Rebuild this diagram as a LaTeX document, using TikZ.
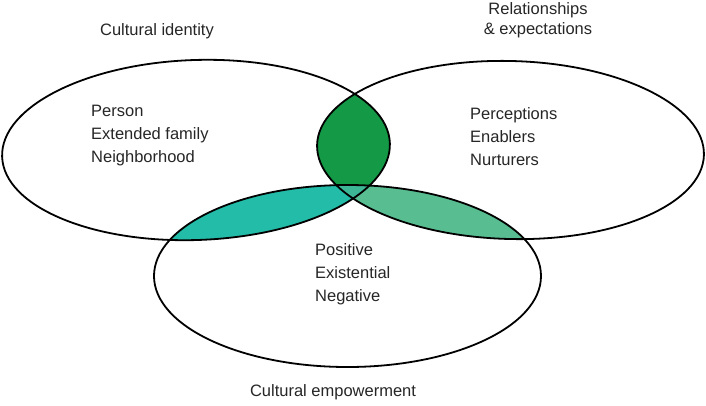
\documentclass[tikz,border=0pt]{standalone}
\usepackage{fontspec}
\setmainfont{Liberation Sans}
\usetikzlibrary{positioning}

\definecolor{lensgreen}{HTML}{149946}
\definecolor{lensteal}{HTML}{23BCA8}
\definecolor{lensmint}{HTML}{58BE91}
\definecolor{lensmix}{HTML}{3DB696}

% the three sets
\newcommand{\identityset}{(196,150) ellipse [x radius=194, y radius=90, rotate=2]}
\newcommand{\relationset}{(510.5,150) ellipse [x radius=193.5, y radius=89, rotate=-1.5]}
\newcommand{\empowerset}{(347.5,276) ellipse [x radius=193.5, y radius=91]}

\begin{document}
\begin{tikzpicture}[
    x=1pt, y=-1pt,
    ring/.style={draw=black, line width=1.8pt},
    settitle/.style={font=\fontsize{16.5}{20}\selectfont, text=black!85, align=center},
    setitems/.style={font=\fontsize{16.5}{23}\selectfont, text=black!85, align=left, anchor=west, inner sep=0pt}
]
\useasboundingbox (0,0) rectangle (706,405);

% overlaps
\begin{scope}
    \clip \identityset;
    \fill[lensgreen] \relationset;
\end{scope}
\begin{scope}
    \clip \identityset;
    \fill[lensteal] \empowerset;
\end{scope}
\begin{scope}
    \clip \relationset;
    \fill[lensmint] \empowerset;
\end{scope}
\begin{scope}
    \clip \identityset;
    \clip \relationset;
    \fill[lensmix] \empowerset;
\end{scope}

% outlines
\draw[ring] \identityset;
\draw[ring] \relationset;
\draw[ring] \empowerset;

% set titles
\node[settitle] (identity) at (157,31) {Cultural identity};
\node[settitle] (relation) at (538,20) {Relationships\\\& expectations};
\node[settitle] (empower) at (333,392) {Cultural empowerment};

% set contents
\node[setitems] (identitylist) at (91,136) {Person\\Extended family\\Neighborhood};
\node[setitems] (relationlist) at (470,137) {Perceptions\\Enablers\\Nurturers};
\node[setitems] (empowerlist) at (315,274) {Positive\\Existential\\Negative};

\end{tikzpicture}
\end{document}
